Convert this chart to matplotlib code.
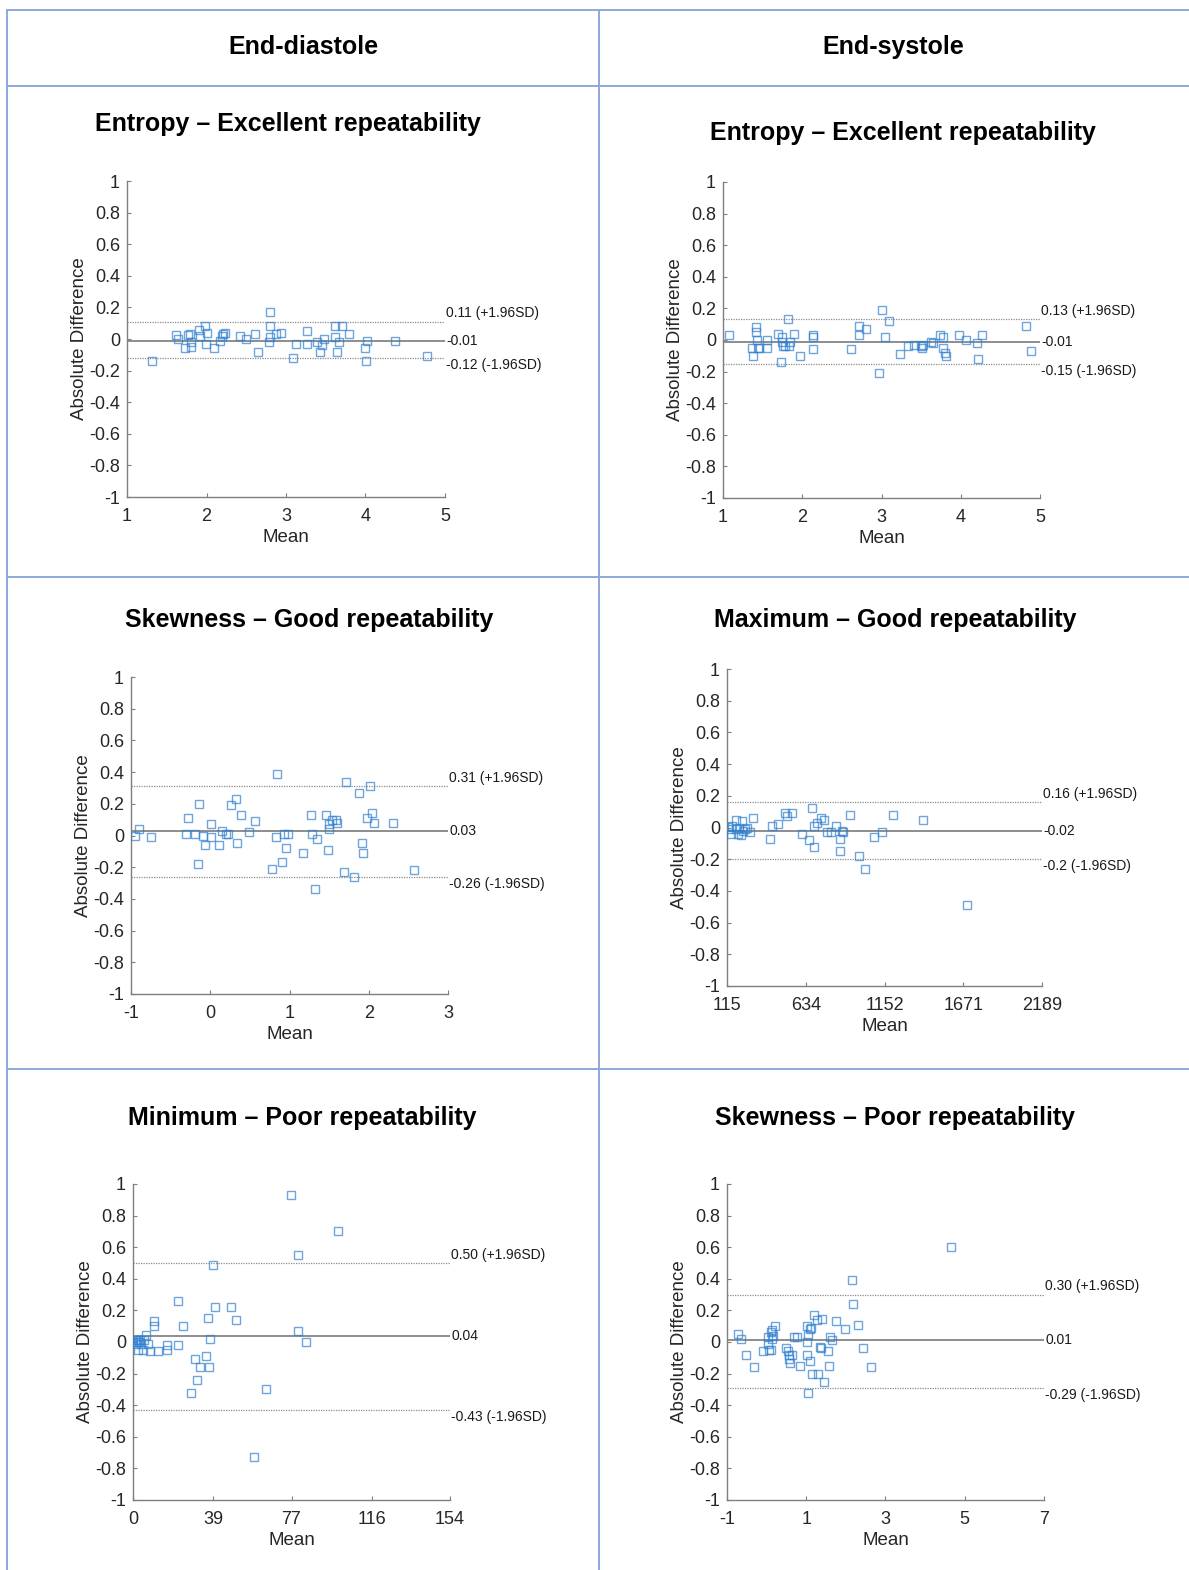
import matplotlib
matplotlib.use('Agg')
import matplotlib.pyplot as plt
from matplotlib.lines import Line2D

plt.rcParams['font.family'] = ['Liberation Sans', 'DejaVu Sans']

W, H = 1189, 1570

# ---- data (mean, difference) ----
ed_entropy_mean = [1.31, 1.62, 1.64, 1.73, 1.77, 1.79, 1.80, 1.80, 1.90, 1.92, 1.98, 1.99,
                   2.00, 2.09, 2.17, 2.19, 2.21, 2.23, 2.42, 2.50, 2.61, 2.65, 2.80, 2.80,
                   2.80, 2.79, 2.88, 2.94, 3.09, 3.12, 3.26, 3.27, 3.39, 3.43, 3.45, 3.48,
                   3.62, 3.62, 3.64, 3.67, 3.71, 3.79, 4.00, 4.01, 4.02, 4.37, 4.77]
ed_entropy_diff = [-0.14, 0.025, 0.00, -0.06, 0.025, 0.03, -0.05, -0.02, 0.06, 0.02, 0.08, -0.03,
                   0.04, -0.06, -0.01, 0.02, 0.03, 0.04, 0.02, 0.00, 0.03, -0.08, 0.17, 0.08,
                   0.01, -0.02, 0.03, 0.04, -0.12, -0.03, 0.05, -0.03, -0.02, -0.08, -0.04, 0.00,
                   0.08, 0.01, -0.08, -0.02, 0.08, 0.03, -0.06, -0.14, -0.01, -0.01, -0.11]

es_entropy_mean = [1.08, 1.37, 1.38, 1.42, 1.42, 1.43, 1.44, 1.45, 1.55, 1.55, 1.70, 1.73,
                   1.74, 1.74, 1.76, 1.78, 1.82, 1.83, 1.84, 1.90, 1.97, 2.13, 2.13, 2.13,
                   2.62, 2.72, 2.72, 2.81, 2.97, 3.00, 3.04, 3.09, 3.23, 3.33, 3.41, 3.50,
                   3.51, 3.52, 3.62, 3.65, 3.74, 3.77, 3.77, 3.80, 3.82, 3.98, 4.07, 4.20,
                   4.22, 4.27, 4.82, 4.89]
es_entropy_diff = [0.03, -0.05, -0.10, 0.08, 0.05, 0.00, -0.05, -0.05, -0.05, 0.00, 0.04, -0.14,
                   0.02, -0.01, -0.04, -0.04, 0.13, -0.04, -0.01, 0.04, -0.10, 0.03, 0.02, -0.06,
                   -0.06, 0.09, 0.03, 0.07, -0.21, 0.19, 0.02, 0.12, -0.09, -0.04, -0.03, -0.04,
                   -0.05, -0.03, -0.01, -0.02, 0.03, -0.05, 0.02, -0.08, -0.10, 0.03, 0.00, -0.02,
                   -0.12, 0.03, 0.09, -0.07]

ed_skew_mean = [-0.95, -0.90, -0.75, -0.31, -0.28, -0.19, -0.16, -0.14, -0.09, -0.06, 0.01, 0.01,
                0.11, 0.15, 0.20, 0.22, 0.26, 0.32, 0.34, 0.39, 0.49, 0.57, 0.78, 0.83,
                0.84, 0.90, 0.93, 0.98, 0.96, 1.17, 1.27, 1.28, 1.32, 1.35, 1.46, 1.48,
                1.50, 1.50, 1.53, 1.59, 1.60, 1.69, 1.71, 1.82, 1.88, 1.92, 1.93, 1.98,
                2.02, 2.04, 2.07, 2.31, 2.57]
ed_skew_diff = [0.00, 0.04, -0.01, 0.01, 0.11, 0.01, -0.18, 0.20, 0.00, -0.06, -0.01, 0.07,
                -0.06, 0.03, 0.01, 0.01, 0.19, 0.23, -0.05, 0.13, 0.02, 0.09, -0.21, -0.01,
                0.39, -0.17, 0.01, 0.01, -0.08, -0.11, 0.13, 0.01, -0.34, -0.02, 0.13, -0.09,
                0.07, 0.04, 0.10, 0.10, 0.08, -0.23, 0.34, -0.26, 0.27, -0.05, -0.11, 0.11,
                0.31, 0.14, 0.08, 0.08, -0.22]

es_max_mean = [120, 130, 141, 150, 172, 176, 185, 194, 207, 211, 220, 235, 246, 266, 288,
               398, 413, 453, 500, 513, 540, 607, 655, 673, 685, 690, 710, 734, 756, 776,
               800, 830, 859, 861, 874, 880, 925, 984, 1023, 1085, 1137, 1210, 1403, 1697]
es_max_diff = [0.005, -0.01, -0.04, 0.01, 0.05, -0.01, -0.04, 0.00, -0.05, 0.04, -0.02, -0.01,
               0.00, -0.03, 0.06, -0.07, 0.01, 0.02, 0.09, 0.07, 0.09, -0.04, -0.08, 0.12,
               0.01, -0.12, 0.03, 0.06, 0.05, -0.03, -0.03, 0.01, -0.07, -0.15, -0.02, -0.03,
               0.08, -0.18, -0.26, -0.06, -0.03, 0.08, 0.05, -0.49]

ed_min_mean = [0.2, 0.8, 1.3, 1.8, 2.3, 2.6, 3.0, 3.5, 4.0, 4.7, 5.5, 6.2, 7.4, 8.3,
               10.4, 10.4, 12.3, 16.7, 16.7, 22.0, 22.0, 24.5, 28.0, 30.1, 31.3, 32.6,
               35.3, 36.6, 36.8, 37.2, 38.7, 39.8, 47.5, 50.0, 58.8, 64.6, 76.6, 80.0,
               80.3, 83.9, 99.8]
ed_min_diff = [0.00, 0.01, -0.01, 0.00, 0.01, -0.05, 0.00, 0.01, -0.01, -0.05, 0.01, 0.045,
               -0.01, -0.06, 0.10, 0.13, -0.06, -0.02, -0.05, 0.26, -0.02, 0.10, -0.32, -0.11,
               -0.24, -0.16, -0.09, 0.15, -0.16, 0.02, 0.49, 0.22, 0.22, 0.14, -0.73, -0.30,
               0.93, 0.55, 0.07, 0.00, 0.70]

es_skew_mean = [-0.73, -0.65, -0.52, -0.31, -0.08, 0.03, 0.04, 0.07, 0.10, 0.11, 0.13, 0.14,
                0.17, 0.21, 0.48, 0.55, 0.57, 0.57, 0.59, 0.63, 0.69, 0.76, 0.83, 1.01,
                1.01, 1.02, 1.04, 1.05, 1.09, 1.12, 1.09, 1.14, 1.20, 1.26, 1.29, 1.35,
                1.36, 1.41, 1.45, 1.56, 1.58, 1.60, 1.64, 1.75, 1.98, 2.16, 2.19, 2.30,
                2.44, 2.63, 4.65]
es_skew_diff = [0.05, 0.02, -0.08, -0.16, -0.06, -0.01, 0.03, -0.05, -0.05, 0.065, 0.02, 0.075,
                0.035, 0.10, -0.04, -0.06, -0.08, -0.11, -0.13, -0.08, 0.03, 0.03, -0.15, 0.10,
                0.00, -0.08, -0.32, 0.045, 0.08, 0.09, -0.12, -0.20, 0.17, 0.14, -0.20, -0.03,
                -0.04, 0.145, -0.25, -0.06, -0.15, 0.03, 0.01, 0.135, 0.08, 0.39, 0.24, 0.11,
                -0.04, -0.16, 0.60]

col_headers = ['End-diastole', 'End-systole']
titles = ['Entropy \u2013 Excellent repeatability', 'Entropy \u2013 Excellent repeatability',
          'Skewness \u2013 Good repeatability', 'Maximum \u2013 Good repeatability',
          'Minimum \u2013 Poor repeatability', 'Skewness \u2013 Poor repeatability']

limits = [(0.11, -0.01, -0.12), (0.13, -0.01, -0.15), (0.31, 0.03, -0.26),
          (0.16, -0.02, -0.20), (0.50, 0.04, -0.43), (0.30, 0.01, -0.29)]
limit_labels = [('0.11 (+1.96SD)', '-0.01', '-0.12 (-1.96SD)'),
                ('0.13 (+1.96SD)', '-0.01', '-0.15 (-1.96SD)'),
                ('0.31 (+1.96SD)', '0.03', '-0.26 (-1.96SD)'),
                ('0.16 (+1.96SD)', '-0.02', '-0.2 (-1.96SD)'),
                ('0.50 (+1.96SD)', '0.04', '-0.43 (-1.96SD)'),
                ('0.30 (+1.96SD)', '0.01', '-0.29 (-1.96SD)')]

x_ticks = [[1, 2, 3, 4, 5], [1, 2, 3, 4, 5], [-1, 0, 1, 2, 3],
           [115, 634, 1152, 1671, 2189], [0, 39, 77, 116, 154], [-1, 1, 3, 5, 7]]
y_ticks = [1, 0.8, 0.6, 0.4, 0.2, 0, -0.2, -0.4, -0.6, -0.8, -1]

panels = [(ed_entropy_mean, ed_entropy_diff), (es_entropy_mean, es_entropy_diff),
          (ed_skew_mean, ed_skew_diff), (es_max_mean, es_max_diff),
          (ed_min_mean, ed_min_diff), (es_skew_mean, es_skew_diff)]

# axes boxes in pixels: left, right, top, bottom
boxes = [(127, 445, 181, 497), (723, 1040, 182, 498),
         (131, 448, 677, 994), (727, 1042, 669, 986),
         (133, 450, 1184, 1500), (727, 1044, 1184, 1500)]
title_pos = [(288, 124), (903, 133), (309, 620), (895, 620), (302, 1118), (895, 1118)]

fig = plt.figure(figsize=(W / 100, H / 100), dpi=100)

# table grid
grid_c = '#8eaadb'
def hline(y, x0, x1):
    fig.add_artist(Line2D([x0 / W, x1 / W], [1 - y / H, 1 - y / H], color=grid_c, lw=1.4))
def vline(x, y0, y1):
    fig.add_artist(Line2D([x / W, x / W], [1 - y0 / H, 1 - y1 / H], color=grid_c, lw=1.4))

for y in [10, 86, 577, 1069]:
    hline(y, 7, W)
for x in [7, 599]:
    vline(x, 10, H)

fig.text(303 / W, 1 - 47 / H, col_headers[0], ha='center', va='center',
         fontsize=18, fontweight='bold')
fig.text(893 / W, 1 - 47 / H, col_headers[1], ha='center', va='center',
         fontsize=18, fontweight='bold')

axis_c = '#7f7f7f'
for i, (xs, ys) in enumerate(panels):
    l, r, t, b = boxes[i]
    ax = fig.add_axes([l / W, 1 - b / H, (r - l) / W, (b - t) / H])
    xt = x_ticks[i]
    ax.set_xlim(xt[0], xt[-1])
    ax.set_ylim(-1, 1)
    ax.set_xticks(xt)
    ax.set_xticklabels([str(v) for v in xt])
    ax.set_yticks(y_ticks)
    ax.set_yticklabels(['%g' % v for v in y_ticks])
    for s in ['top', 'right']:
        ax.spines[s].set_visible(False)
    for s in ['left', 'bottom']:
        ax.spines[s].set_color(axis_c)
        ax.spines[s].set_linewidth(1.0)
    ax.tick_params(direction='in', length=3, width=0.8, color=axis_c,
                   labelsize=13, labelcolor='#262626')
    ax.tick_params(axis='x', pad=8)
    ax.tick_params(axis='y', pad=5)
    ax.set_xlabel('Mean', fontsize=13.5, color='#262626', labelpad=3)
    ax.set_ylabel('Absolute Difference', fontsize=13.5, color='#262626', labelpad=1)

    up, mid, lo = limits[i]
    ax.axhline(up, color='#8c8c8c', lw=0.9, ls=(0, (1, 1)), zorder=1)
    ax.axhline(mid, color='#7a7a7a', lw=1.2, zorder=1)
    ax.axhline(lo, color='#8c8c8c', lw=0.9, ls=(0, (1, 1)), zorder=1)

    ax.plot(xs, ys, 's', ms=5.3, mfc='none', mec='#2f7fd0', mew=1.0, alpha=0.7, zorder=3)

    lu, lm, ll = limit_labels[i]
    for val, txt, dy in [(up, lu, 6), (mid, lm, 0), (lo, ll, -5)]:
        ax.annotate(txt, xy=(xt[-1], val), xytext=(1, dy), textcoords='offset points',
                    ha='left', va='center', fontsize=10, color='#1a1a1a',
                    annotation_clip=False)

    tx, ty = title_pos[i]
    fig.text(tx / W, 1 - ty / H, titles[i], ha='center', va='center',
             fontsize=18, fontweight='bold')

fig.savefig('out.png', dpi=100)
